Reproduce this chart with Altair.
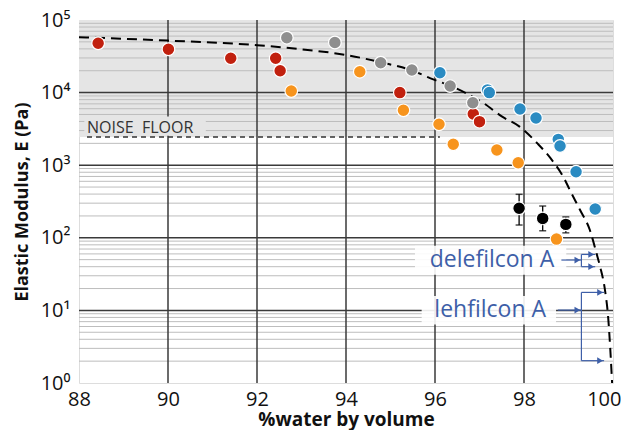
import altair as alt
import pandas as pd

FONT = "Open Sans"

# ---- data ----
red_x = [88.43, 90.01, 91.41, 92.42, 92.52, 95.21, 96.86, 97.00]
red_y = [4.78e4, 3.95e4, 2.97e4, 2.97e4, 2.0e4, 1.0e4, 5.07e3, 3.98e3]
gray_x = [92.67, 93.75, 94.78, 95.48, 96.34, 96.85]
gray_y = [5.7e4, 4.9e4, 2.58e4, 2.05e4, 1.23e4, 7.26e3]
orange_x = [92.77, 94.31, 95.29, 96.09, 96.41, 97.39, 97.87, 98.73]
orange_y = [1.05e4, 1.94e4, 5.7e3, 3.66e3, 1.94e3, 1.62e3, 1.08e3, 96]
blue_x = [96.11, 97.18, 97.22, 97.91, 98.27, 98.77, 98.81, 99.17, 99.60]
blue_y = [1.88e4, 1.09e4, 1.0e4, 5.94e3, 4.47e3, 2.27e3, 1.84e3, 813, 249]
black_x = [97.89, 98.42, 98.94]
black_y = [255, 185, 153]
black_lo = [150, 125, 117]
black_hi = [397, 274, 194]

curve_x = [88.0, 90.0, 92.0, 92.9, 94.0, 94.8, 95.5, 95.9, 96.4, 96.7, 97.1, 97.5,
           97.9, 98.3, 98.6, 98.9, 99.03, 99.26, 99.48, 99.63, 99.71, 99.82, 99.89,
           99.94, 99.98]
curve_y = [5.8e4, 5.2e4, 4.5e4, 4.0e4, 3.3e4, 2.6e4, 2.0e4, 1.57e4, 1.2e4, 9.8e3,
           7.1e3, 4.7e3, 3.4e3, 2.0e3, 1.24e3, 660, 455, 241, 128, 61, 40, 19, 8.2,
           2.85, 1.0]

noise_floor = 2450
x_ticks = [88, 90, 92, 94, 96, 98, 100]
y_ticks = [1, 10, 100, 1000, 10000, 100000]
x_grid = [90, 92, 94, 96, 98]
y_major = [10, 100, 1000, 10000]
y_minor = [m * 10 ** k for k in range(5) for m in range(2, 10)]

series_names = ["red", "gray", "orange", "blue", "black"]
series_colors = ["#c1200e", "#8e8e8e", "#f7941d", "#2a8bc2", "#000000"]

# ---- tables ----
rows = []
for name, xs, ys in [("red", red_x, red_y), ("gray", gray_x, gray_y),
                     ("orange", orange_x, orange_y), ("blue", blue_x, blue_y),
                     ("black", black_x, black_y)]:
    for a, b in zip(xs, ys):
        rows.append({"x": a, "y": b, "s": name})
pts = pd.DataFrame(rows)
err = pd.DataFrame({"x": black_x, "lo": black_lo, "hi": black_hi})
curve = pd.DataFrame({"x": curve_x, "y": curve_y})

X = alt.Scale(domain=[88, 100], nice=False, zero=False)
Y = alt.Scale(type="log", domain=[1, 100000], nice=False)

x_axis = alt.Axis(values=x_ticks, labelFontSize=20, labelFont=FONT, ticks=False,
                  domain=False, grid=False, labelFlush=False, labelColor="#111",
                  labelPadding=6,
                  labelAlign={"condition": {"test": "datum.value == 100", "value": "right"},
                              "value": "center"},
                  labelOffset={"condition": {"test": "datum.value == 100", "value": 8},
                               "value": 0},
                  title="%water by volume", titleFont=FONT,
                  titleFontSize=19, titleFontWeight="bold", titleColor="#111",
                  titlePadding=1)
y_axis = alt.Axis(values=y_ticks, labelFontSize=20, labelFont=FONT, ticks=False,
                  domain=False, grid=False, labelFlush=False, labelColor="#111",
                  labelPadding=9,
                  labelExpr="'10' + ['⁰','¹','²','³','⁴','⁵'][round(log(datum.value)/LN10)]",
                  title="Elastic Modulus, E (Pa)", titleFont=FONT, titleFontSize=18,
                  titleFontWeight="bold", titleColor="#111", titlePadding=9)

base = alt.Chart(pd.DataFrame({"x": [88, 100], "y": [1, 100000]}))

axes = base.mark_point(opacity=0).encode(
    x=alt.X("x:Q", scale=X, axis=x_axis),
    y=alt.Y("y:Q", scale=Y, axis=y_axis),
)

band = alt.Chart(pd.DataFrame({"x": [88], "x2": [100], "y": [noise_floor], "y2": [100000]})).mark_rect(
    color="#e5e5e5").encode(x=alt.X("x:Q", scale=X), x2="x2", y=alt.Y("y:Q", scale=Y), y2="y2")

minor = alt.Chart(pd.DataFrame({"y": y_minor})).mark_rule(color="#bdbdbd", strokeWidth=1).encode(
    y=alt.Y("y:Q", scale=Y))
major_h = alt.Chart(pd.DataFrame({"y": y_major})).mark_rule(color="#3a3a3a", strokeWidth=1.5).encode(
    y=alt.Y("y:Q", scale=Y))
major_v = alt.Chart(pd.DataFrame({"x": x_grid})).mark_rule(color="#3a3a3a", strokeWidth=1.5).encode(
    x=alt.X("x:Q", scale=X))

# noise floor label box + text + dashed line
nf_box = alt.Chart(pd.DataFrame({"x": [88.12], "x2": [90.85], "y": [2550], "y2": [4700]})).mark_rect(
    color="#e5e5e5").encode(x=alt.X("x:Q", scale=X), x2="x2", y=alt.Y("y:Q", scale=Y), y2="y2")
nf_text = alt.Chart(pd.DataFrame({"x": [88.18], "y": [3250], "t": ["NOISE\u00a0\u00a0FLOOR"]})).mark_text(
    align="left", baseline="middle", fontSize=16, font=FONT, color="#333").encode(
    x=alt.X("x:Q", scale=X), y=alt.Y("y:Q", scale=Y), text="t")
nf_line = alt.Chart(pd.DataFrame({"x": [88.18], "x2": [96.11], "y": [noise_floor]})).mark_rule(
    color="#333", strokeWidth=1.5, strokeDash=[5, 4]).encode(
    x=alt.X("x:Q", scale=X), x2="x2", y=alt.Y("y:Q", scale=Y))

# annotation boxes (white glow behind labels)
ann_box = alt.Chart(pd.DataFrame({"x": [95.55, 95.70], "x2": [98.95, 98.72],
                                  "y": [31, 6.4], "y2": [78, 15.8]})).mark_rect(
    color="white", opacity=0.9).encode(x=alt.X("x:Q", scale=X), x2="x2",
                                         y=alt.Y("y:Q", scale=Y), y2="y2")

dash_curve = alt.Chart(curve).mark_line(color="black", strokeWidth=2, strokeDash=[10, 6],
                                        interpolate="monotone", clip=True).encode(
    x=alt.X("x:Q", scale=X), y=alt.Y("y:Q", scale=Y))

err_rule = alt.Chart(err).mark_rule(color="black", strokeWidth=1.3).encode(
    x=alt.X("x:Q", scale=X), y=alt.Y("lo:Q", scale=Y), y2="hi")
err_caps = alt.Chart(pd.concat([err.assign(v=err["lo"]), err.assign(v=err["hi"])])).mark_tick(
    color="black", orient="horizontal", size=7, thickness=1.5).encode(
    x=alt.X("x:Q", scale=X), y=alt.Y("v:Q", scale=Y))

points = alt.Chart(pts).mark_circle(size=160, opacity=1, stroke="white", strokeWidth=1.2).encode(
    x=alt.X("x:Q", scale=X), y=alt.Y("y:Q", scale=Y),
    color=alt.Color("s:N", scale=alt.Scale(domain=series_names, range=series_colors), legend=None))

# annotations
ann_col = "#3e5fa8"
labels = alt.Chart(pd.DataFrame({"x": [97.28, 97.24], "y": [49.4, 10.1],
                                 "t": ["delefilcon A", "lehfilcon A"]})).mark_text(
    fontSize=23, font=FONT, color=ann_col, baseline="middle", align="center").encode(
    x=alt.X("x:Q", scale=X), y=alt.Y("y:Q", scale=Y), text="t")

seg = pd.DataFrame({
    "x":  [98.84, 99.29, 99.29, 99.29, 98.76, 99.29, 99.29, 99.29],
    "x2": [99.29, 99.29, 99.60, 99.60, 99.29, 99.29, 99.80, 99.80],
    "y":  [49.4, 59.0, 59.0, 40.0, 10.1, 17.7, 17.7, 2.03],
    "y2": [49.4, 40.0, 59.0, 40.0, 10.1, 2.03, 17.7, 2.03],
})
segs = alt.Chart(seg).mark_rule(color=ann_col, strokeWidth=1.2).encode(
    x=alt.X("x:Q", scale=X), x2="x2", y=alt.Y("y:Q", scale=Y), y2="y2")
heads = alt.Chart(pd.DataFrame({"x": [99.20, 99.51, 99.51, 99.20, 99.71, 99.71],
                                "y": [49.4, 59.0, 40.0, 10.1, 17.7, 2.03]})).mark_point(
    shape="triangle-right", filled=True, size=45, color=ann_col, opacity=1).encode(
    x=alt.X("x:Q", scale=X), y=alt.Y("y:Q", scale=Y))

chart = alt.layer(
    band, minor, major_h, major_v, nf_box, nf_text, nf_line, ann_box,
    dash_curve, err_rule, err_caps, points, segs, heads, labels, axes
).properties(
    width=534, height=363,
    autosize=alt.AutoSizeParams(type="none"),
    padding={"left": 71, "top": 12, "right": 8, "bottom": 47},
).configure_view(stroke="#444", strokeWidth=1.5).configure(background="white")

chart.save("out.html", embed_options={"renderer": "svg", "actions": False})
